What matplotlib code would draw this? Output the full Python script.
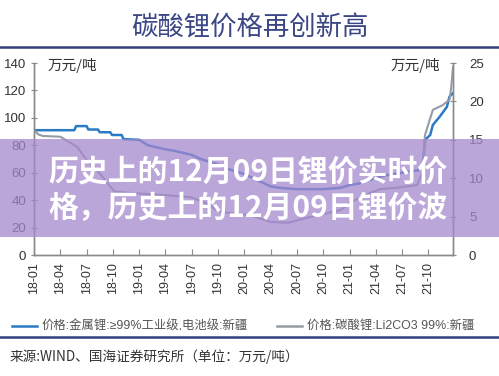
import matplotlib
matplotlib.use("Agg")
import matplotlib.pyplot as plt
from matplotlib.lines import Line2D
from matplotlib.patches import Rectangle

plt.rcParams['font.family'] = ['Liberation Sans', 'Noto Sans CJK SC', 'DejaVu Sans']

# 数据 (月份序号: 0 = 2018-01)
tick_months = list(range(0, 46, 3))
tick_labels = ["18-01", "18-04", "18-07", "18-10", "19-01", "19-04", "19-07", "19-10",
               "20-01", "20-04", "20-07", "20-10", "21-01", "21-04", "21-07", "21-10"]

# 金属锂 (左轴, 万元/吨)
metal_x = [0, 4.6, 4.8, 6.0, 6.2, 7.3, 7.5, 8.7, 8.9, 10, 10.2, 12, 13, 15, 16, 18, 19, 20,
           21, 22, 23, 24, 25, 26, 27, 28, 30, 33, 35, 36, 37, 38, 39, 40, 41, 42, 43, 44,
           44.4, 44.6, 45.2, 45.5, 46.3, 47.1, 47.4, 47.8]
metal_y = [91, 91, 94, 94, 91.5, 91.5, 89.5, 89.5, 87.5, 87.5, 84.5, 84, 80, 77, 76, 73, 70, 68,
           66, 63, 61, 59, 56, 53, 50, 49, 48, 48, 49, 51, 52, 54, 56, 58, 59, 60, 61, 62,
           68, 84, 87.5, 94.8, 101, 108, 115.5, 118]

# 碳酸锂 (右轴, 万元/吨)
carb_x = [0, 0.5, 1, 3, 4.9, 6, 7.5, 8.7, 9.2, 12, 15, 18, 19.7, 20.8, 22, 24.6, 27, 29,
          31.5, 35, 36, 38, 39.5, 41.4, 43.7, 44.3, 44.6, 45.2, 45.5, 46.6, 47.4, 47.6, 47.8]
carb_y = [16.25, 15.7, 15.5, 15.4, 14.1, 12.4, 10.6, 8.9, 8.25, 8.0, 7.8, 7.5, 6.7, 5.85, 5.5,
          5.2, 4.3, 4.2, 4.95, 5.85, 6.8, 7.9, 8.6, 8.75, 9.1, 10.7, 15.6, 17.8, 18.9, 19.5,
          20.2, 21.9, 24.5]

banner_lines = ["历史上的12月09日锂价实时价", "格，历史上的12月09日锂价波"]

blue = '#2b7ac4'
gray = '#959ca6'
navy = '#33407e'
spine_c = '#8a8a8a'

fig = plt.figure(figsize=(4.99, 3.76), dpi=100)

# 标题
fig.text(0.5, 0.925, "碳酸锂价格再创新高", ha='center', va='center', fontsize=19,
         color='#3b4685', family=['Noto Sans CJK SC'])
fig.add_artist(Line2D([0, 1], [1 - 47 / 376] * 2, transform=fig.transFigure, color=navy, lw=1.8))

ax = fig.add_axes([34 / 499, 1 - 255 / 376, (453 - 34) / 499, (255 - 63) / 376])
ax2 = ax.twinx()

ax.plot(metal_x, metal_y, color=blue, lw=1.8, zorder=3)
ax2.plot(carb_x, carb_y, color=gray, lw=1.5, zorder=2)

ax.set_xlim(0, 47.8)
ax.set_ylim(0, 140)
ax2.set_ylim(0, 25)
ax.set_yticks(range(0, 141, 20))
ax2.set_yticks(range(0, 26, 5))
ax.set_xticks(tick_months)
ax.set_xticklabels(tick_labels, rotation=90)

for a in (ax, ax2):
    a.spines['top'].set_visible(False)
    for s in ('left', 'right', 'bottom'):
        a.spines[s].set_color(spine_c)
        a.spines[s].set_linewidth(1.0)
ax.tick_params(axis='y', direction='inout', length=5, color=spine_c, labelsize=9.5,
               labelcolor='#333333', pad=3)
ax2.tick_params(axis='y', direction='inout', length=5, color=spine_c, labelsize=9.5,
                labelcolor='#333333', pad=9)
ax.tick_params(axis='x', direction='in', length=4, color=spine_c, labelsize=9,
               labelcolor='#333333', pad=5)

ax.text(14 / 419, 0.985, "万元/吨", transform=ax.transAxes, ha='left', va='center',
        fontsize=10.5, color='#333333', family=['Noto Sans CJK SC'])
ax.text(406 / 419, 0.985, "万元/吨", transform=ax.transAxes, ha='right', va='center',
        fontsize=10.5, color='#333333', family=['Noto Sans CJK SC'])

# 图例
ly = 1 - 326 / 376
fig.add_artist(Line2D([12 / 499, 37 / 499], [ly, ly], transform=fig.transFigure, color=blue, lw=1.8))
fig.text(42 / 499, ly, "价格:金属锂:≥99%工业级,电池级:新疆", ha='left', va='center',
         fontsize=8.9, color='#555555')
fig.add_artist(Line2D([277 / 499, 302 / 499], [ly, ly], transform=fig.transFigure, color=gray, lw=1.8))
fig.text(307 / 499, ly, "价格:碳酸锂:Li2CO3 99%:新疆", ha='left', va='center',
         fontsize=8.9, color='#555555')

fig.add_artist(Line2D([0, 1], [1 - 337 / 376] * 2, transform=fig.transFigure, color=navy, lw=1.8))
fig.text(10 / 499, 1 - 357 / 376, "来源:WIND、国海证券研究所（单位：万元/吨）", ha='left', va='center',
         fontsize=9.8, color='#333333', family=['Noto Sans CJK SC'])

# 紫色横幅
fig.add_artist(Rectangle((0, 1 - 237 / 376), 1, 98 / 376, transform=fig.transFigure,
                         facecolor=(164 / 255, 136 / 255, 206 / 255), alpha=0.75,
                         edgecolor='none', zorder=10))
renderer = fig.canvas.get_renderer()
for txt, yc in zip(banner_lines, [172, 208]):
    t = fig.text(48 / 499, 1 - yc / 376, txt, ha='left', va='center', fontsize=20,
                 color='white', fontweight='bold', family=['Noto Sans CJK SC'], zorder=11)
    w = t.get_window_extent(renderer).width
    t.set_fontsize(20 * 399 / w)

fig.savefig("out.png", dpi=100)
